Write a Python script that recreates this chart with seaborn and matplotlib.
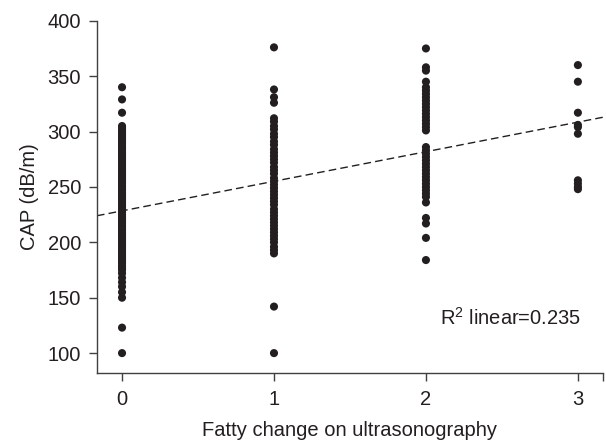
import numpy as np
import pandas as pd
import seaborn as sns
import matplotlib.pyplot as plt

# --- data ---
grade_0 = [340, 329, 317, 305, 303, 301, 299, 297, 295, 293, 291, 289, 287, 285,
           283, 281, 279, 277, 275, 273, 271, 269, 267, 265, 263, 261, 259, 257,
           255, 253, 251, 249, 247, 245, 243, 241, 239, 237, 235, 233, 231, 229,
           227, 225, 223, 221, 219, 217, 215, 213, 211, 209, 207, 205, 203, 201,
           199, 197, 195, 193, 191, 189, 187, 185, 183, 181, 179, 177, 175, 172,
           168, 164, 160, 155, 150, 123, 100]
grade_1 = [376, 338, 331, 326, 312, 309, 305, 302, 298, 295, 291, 288, 284, 281,
           278, 275, 272, 268, 265, 262, 258, 255, 252, 249, 246, 243, 240, 237,
           234, 230, 227, 224, 221, 218, 215, 212, 209, 206, 203, 200, 196, 193,
           190, 142, 100]
grade_2 = [375, 358, 355, 345, 340, 337, 334, 331, 328, 325, 322, 319, 316, 313,
           310, 307, 304, 301, 286, 283, 280, 277, 274, 271, 268, 265, 262, 259,
           256, 253, 250, 247, 244, 241, 236, 222, 217, 204, 184]
grade_3 = [360, 345, 317, 306, 304, 298, 256, 253, 250, 248]

# fitted linear line shown in the chart
fit_intercept = 228.4
fit_slope = 26.7
r2_text = "R$^2$ linear=0.235"

df = pd.DataFrame({
    "grade": [0] * len(grade_0) + [1] * len(grade_1) + [2] * len(grade_2) + [3] * len(grade_3),
    "cap": grade_0 + grade_1 + grade_2 + grade_3,
})

sns.set_style("ticks")
plt.rcParams["font.family"] = ["Liberation Sans", "DejaVu Sans"]
plt.rcParams["mathtext.fontset"] = "custom"
plt.rcParams["mathtext.rm"] = "Liberation Sans"
plt.rcParams["mathtext.it"] = "Liberation Sans"

fig = plt.figure(figsize=(6.06, 4.42), dpi=100)
ax = fig.add_axes([0.160, 0.156, 0.835, 0.797])

sns.scatterplot(data=df, x="grade", y="cap", ax=ax, color="#231f20",
                s=34, edgecolor="none", linewidth=0, legend=False, zorder=3)

xmin, xmax = -0.165, 3.165
xs = np.array([xmin, xmax])
ax.plot(xs, fit_intercept + fit_slope * xs, color="#231f20", lw=1.0,
        ls=(0, (5.5, 3)), zorder=2)

ax.set_xlim(xmin, xmax)
ax.set_ylim(82, 400)
ax.set_xticks([0, 1, 2, 3])
ax.set_xticks([xmax], minor=True)
ax.set_yticks([100, 150, 200, 250, 300, 350, 400])

ax.set_xlabel("Fatty change on ultrasonography", fontsize=14.5, color="#231f20", labelpad=9)
ax.set_ylabel("CAP (dB/m)", fontsize=14.5, color="#231f20", labelpad=6)

ax.text(2.09, 132, r2_text, fontsize=14.5, color="#231f20", ha="left", va="center")

for side in ["top", "right"]:
    ax.spines[side].set_visible(False)
for side in ["left", "bottom"]:
    ax.spines[side].set_color("#404040")
    ax.spines[side].set_linewidth(1.0)
ax.tick_params(axis="both", which="both", length=5.5, width=1.0, color="#404040",
               labelsize=14.5, labelcolor="#231f20")
ax.tick_params(axis="x", which="both", pad=6.5)
ax.tick_params(axis="y", which="both", pad=6)

fig.savefig("out.png", dpi=100)
